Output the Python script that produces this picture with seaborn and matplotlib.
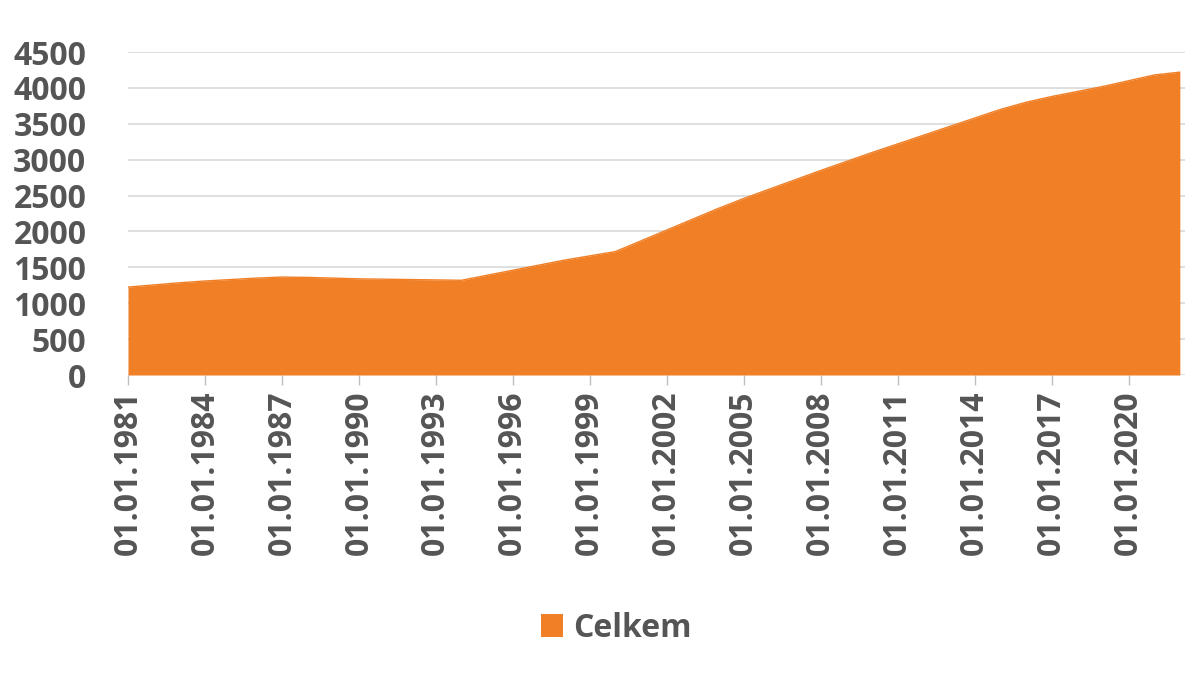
import numpy as np
import pandas as pd
import matplotlib
matplotlib.use("Agg")
import matplotlib.pyplot as plt
import seaborn as sns
from matplotlib.patches import Patch

# Data
years = list(range(1981, 2023))
values = [1225, 1255, 1285, 1310, 1330, 1350, 1365, 1360, 1350, 1340,
          1335, 1330, 1325, 1320, 1390, 1460, 1530, 1600, 1660, 1720,
          1870, 2020, 2170, 2320, 2460, 2590, 2720, 2850, 2975, 3100,
          3220, 3340, 3460, 3580, 3700, 3800, 3880, 3950, 4020, 4100,
          4180, 4220]
tick_years = list(range(1981, 2021, 3))
tick_labels = ["01.01.%d" % y for y in tick_years]
series_name = "Celkem"

df = pd.DataFrame({"year": years, "value": values})

sns.set_theme(style="white")
plt.rcParams["font.family"] = ["Open Sans", "DejaVu Sans"]

orange = "#F07F26"
text_col = "#555555"

fig = plt.figure(figsize=(11.85, 6.74), dpi=100)
ax = fig.add_axes([0.108, 0.4436, 0.892, 0.4792])

ax.fill_between(df["year"], df["value"], 0, color=orange, linewidth=0, zorder=2)
sns.lineplot(data=df, x="year", y="value", ax=ax, color=orange, linewidth=1, zorder=3)

ax.set_xlim(1981, 2022.2)
ax.set_ylim(0, 4500)
ax.set_yticks(range(0, 4501, 500))
ax.yaxis.grid(True, color="#d9d9d9", linewidth=1.2)
ax.set_axisbelow(True)

ax.set_xticks(tick_years)
ax.set_xticklabels(tick_labels, rotation=90)
for s in ax.spines.values():
    s.set_visible(False)
ax.tick_params(axis="x", bottom=True, length=7, width=1, color="#bfbfbf",
               labelsize=23, labelcolor=text_col, pad=4)
ax.tick_params(axis="y", left=False, labelsize=23, labelcolor=text_col, pad=24)
for lbl in ax.get_xticklabels() + ax.get_yticklabels():
    lbl.set_fontweight("bold")
ax.set_xlabel("")
ax.set_ylabel("")

handle = Patch(facecolor=orange, edgecolor="none", label=series_name)
leg = fig.legend(handles=[handle], loc="center", bbox_to_anchor=(0.52, 0.068),
                 frameon=False, prop={"size": 23, "weight": "bold"},
                 handlelength=0.7, handleheight=0.7, handletextpad=0.3)
for t in leg.get_texts():
    t.set_color(text_col)

fig.savefig("out.png", dpi=100)
